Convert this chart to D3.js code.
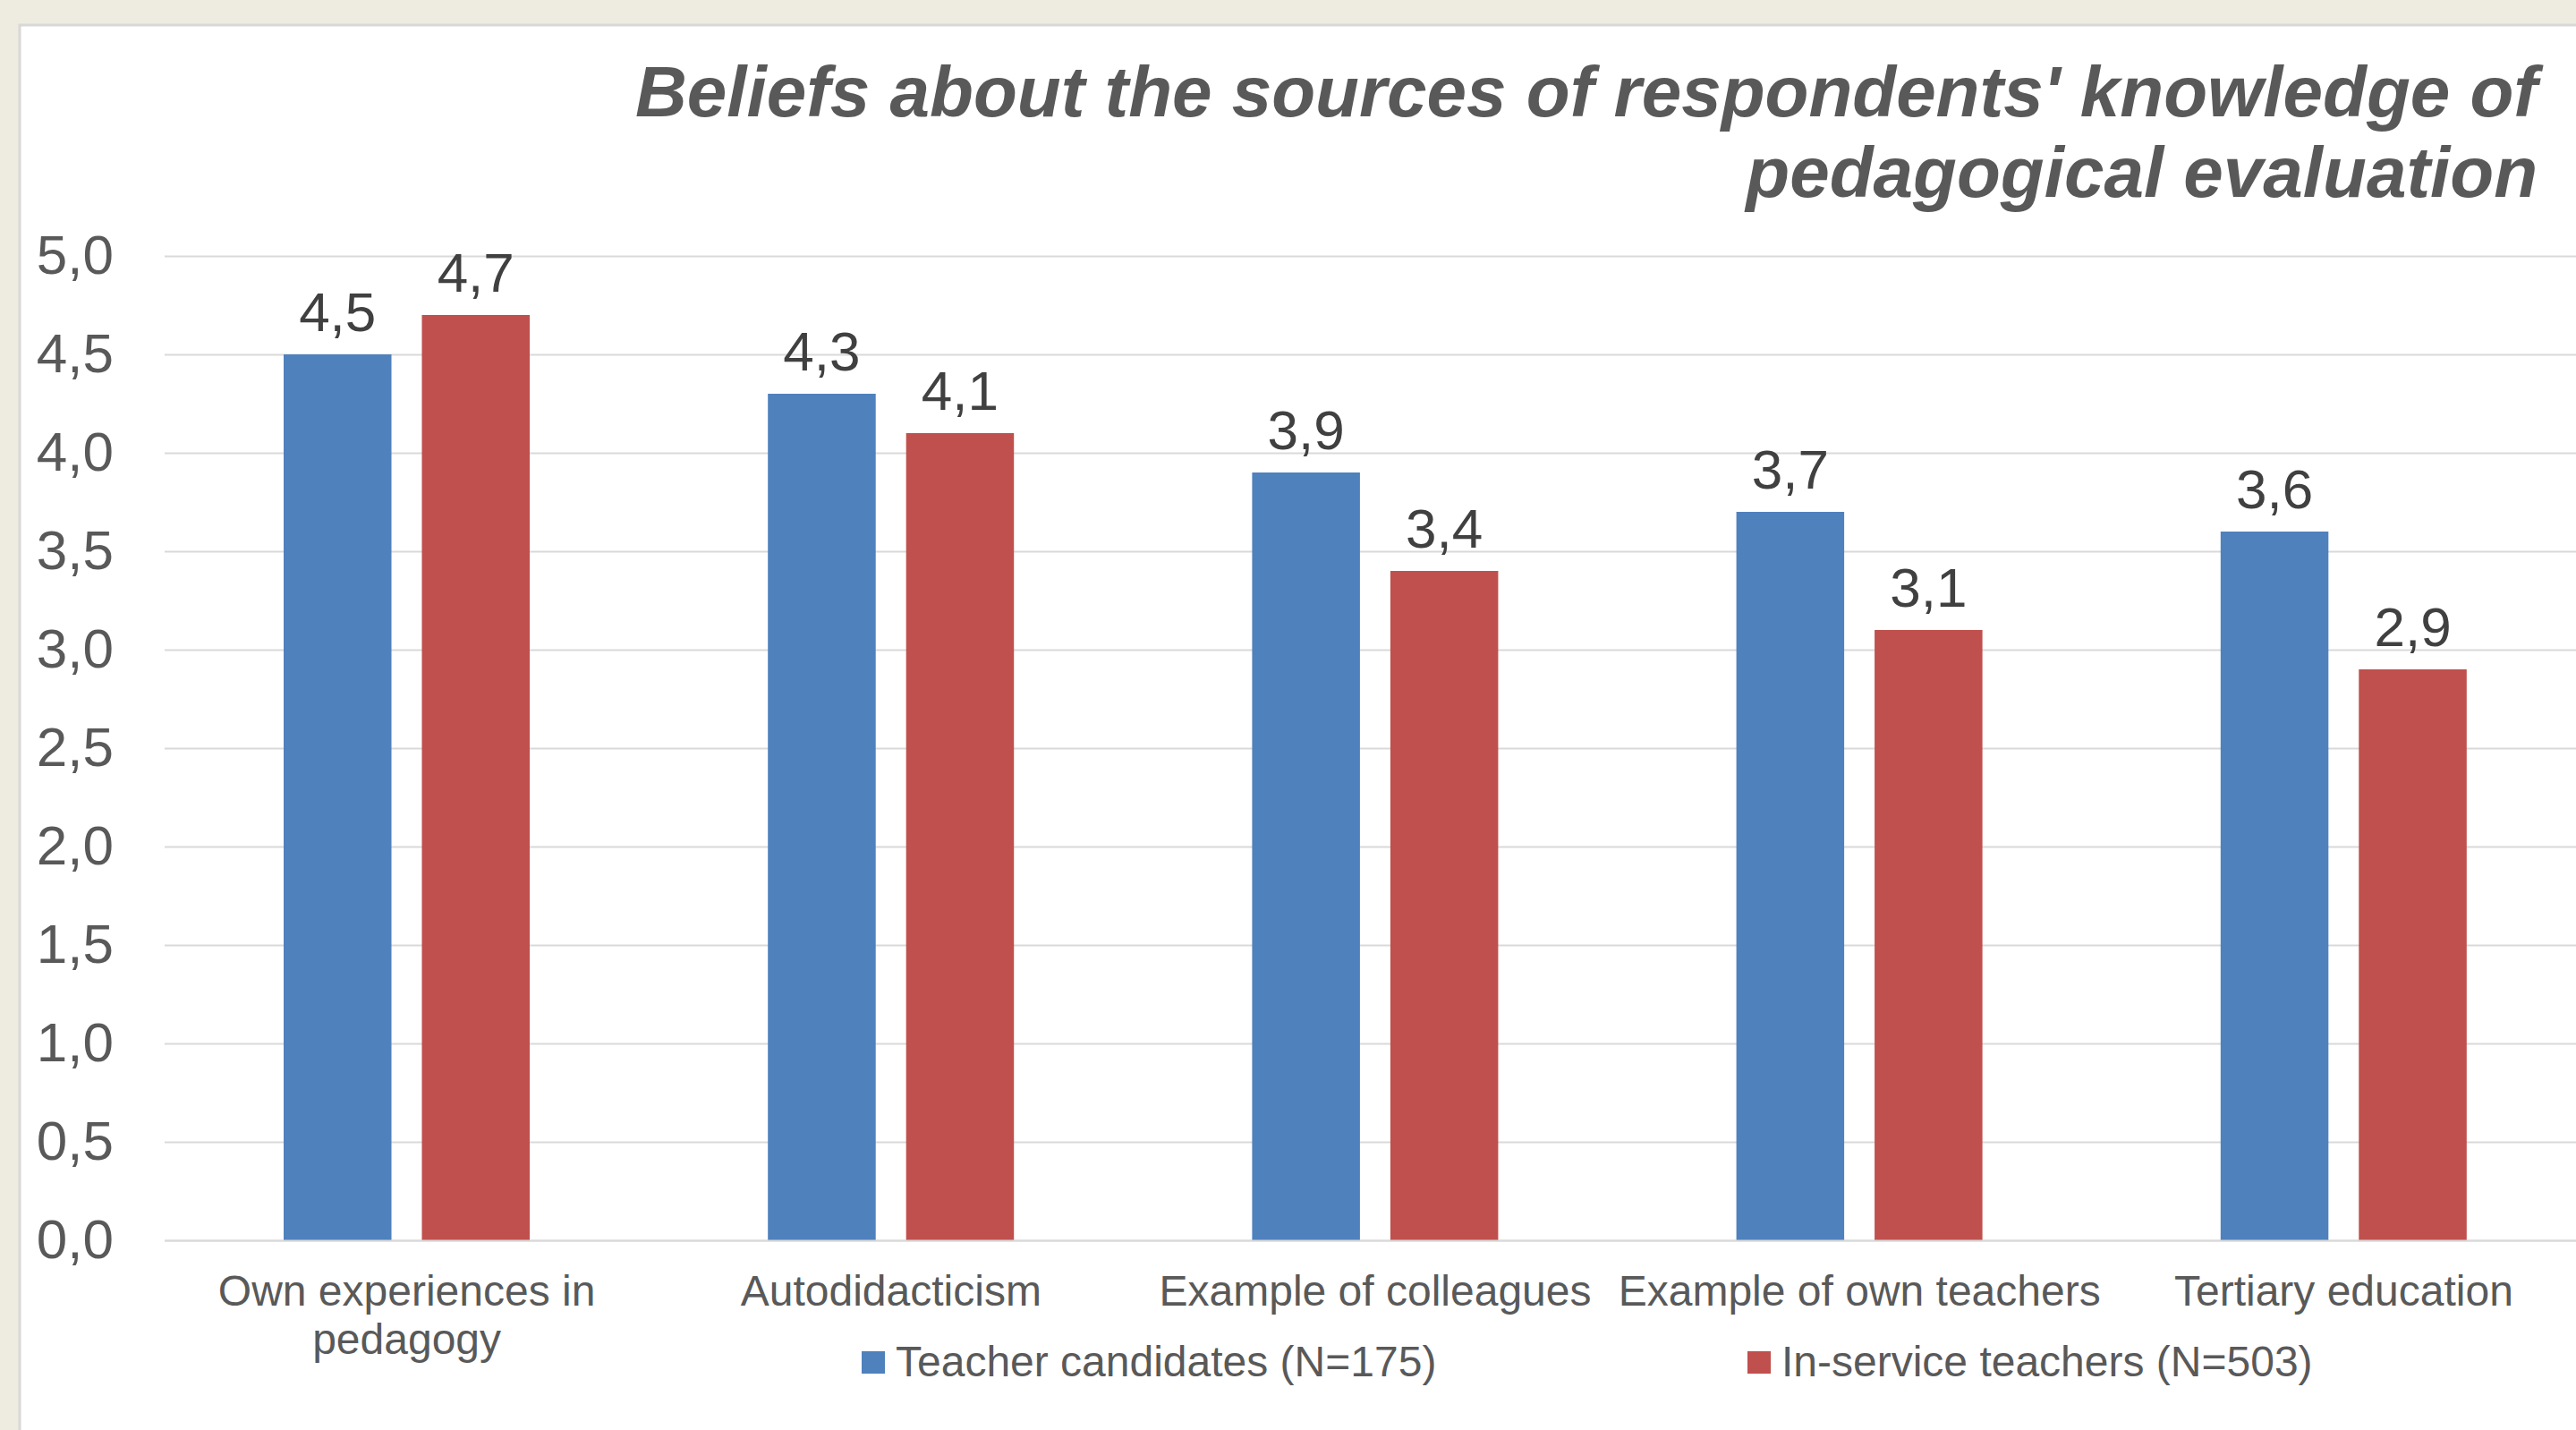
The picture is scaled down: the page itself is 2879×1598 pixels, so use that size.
<!DOCTYPE html>
<html>
<head>
<meta charset="utf-8">
<script src="https://cdn.jsdelivr.net/npm/d3@7"></script>
<style>
  html, body { margin: 0; padding: 0; background: #EEEBE0; }
  svg { display: block; }
</style>
</head>
<body>
<svg id="chart" width="2879" height="1598"></svg>
<script>
const titleLines = ["Beliefs about the sources of respondents' knowledge of", "pedagogical evaluation"];
const categories = ["Own experiences in pedagogy", "Autodidacticism", "Example of colleagues", "Example of own teachers", "Tertiary education"];
const seriesNames = ["Teacher candidates (N=175)", "In-service teachers (N=503)"];
const teacherCandidates = [4.5, 4.3, 3.9, 3.7, 3.6];
const inServiceTeachers = [4.7, 4.1, 3.4, 3.1, 2.9];
const yTicks = [0, 0.5, 1, 1.5, 2, 2.5, 3, 3.5, 4, 4.5, 5];
const colors = ["#4F81BD", "#C0504D"];

const seriesValues = [teacherCandidates, inServiceTeachers];
const fmt = v => d3.format(".1f")(v).replace(".", ",");

const svg = d3.select("#chart");
const W = 2879, H = 1598;

// background panel
svg.append("rect").attr("x", 0).attr("y", 0).attr("width", W).attr("height", H).attr("fill", "#EEEBE0");
svg.append("rect").attr("x", 22).attr("y", 28).attr("width", W).attr("height", H)
  .attr("fill", "#FFFFFF").attr("stroke", "#D8D8D8").attr("stroke-width", 3);

// title
const title = svg.append("text")
  .attr("text-anchor", "end")
  .attr("font-family", "'Liberation Sans', Arial, sans-serif")
  .attr("font-weight", "bold").attr("font-style", "italic")
  .attr("font-size", 80).attr("fill", "#595959");
titleLines.forEach((t, i) => {
  title.append("tspan").attr("x", 2836).attr("y", 130 + i * 90).text(t);
});

// scales
const x0 = d3.scaleBand().domain(categories).range([184, 2890]).paddingInner(0).paddingOuter(0);
const x1 = d3.scaleBand().domain(seriesNames).range([133, 408]).paddingInner(0.22).paddingOuter(0);
const y = d3.scaleLinear().domain([0, 5]).range([1386, 286]);

// y axis with gridlines
const yAxis = svg.append("g").attr("transform", "translate(184,0)")
  .call(d3.axisLeft(y).tickValues(yTicks).tickFormat(fmt).tickSizeInner(-(2890 - 184)).tickSizeOuter(0).tickPadding(57));
yAxis.select(".domain").remove();
yAxis.selectAll(".tick line").attr("stroke", "#D9D9D9").attr("stroke-width", 2);
yAxis.selectAll(".tick text")
  .attr("font-family", "'Liberation Sans', Arial, sans-serif")
  .attr("font-size", 62).attr("fill", "#595959");

// bars
const groups = svg.append("g").selectAll("g")
  .data(categories).join("g")
  .attr("transform", d => `translate(${x0(d)},0)`);

groups.selectAll("rect")
  .data((d, i) => seriesNames.map((s, j) => ({ s, j, v: seriesValues[j][i] })))
  .join("rect")
  .attr("x", d => x1(d.s))
  .attr("width", x1.bandwidth())
  .attr("y", d => y(d.v))
  .attr("height", d => y(0) - y(d.v))
  .attr("fill", d => colors[d.j]);

groups.selectAll("text.val")
  .data((d, i) => seriesNames.map((s, j) => ({ s, j, v: seriesValues[j][i] })))
  .join("text")
  .attr("class", "val")
  .attr("x", d => x1(d.s) + x1.bandwidth() / 2)
  .attr("y", d => y(d.v) - 26)
  .attr("text-anchor", "middle")
  .attr("font-family", "'Liberation Sans', Arial, sans-serif")
  .attr("font-size", 62).attr("fill", "#404040")
  .text(d => fmt(d.v));

// x axis labels (wrapped)
const xAxis = svg.append("g").attr("transform", `translate(0,${y(0)})`)
  .call(d3.axisBottom(x0).tickSize(0).tickPadding(0));
xAxis.select(".domain").attr("stroke", "#D9D9D9").attr("stroke-width", 2);
xAxis.selectAll(".tick text")
  .attr("font-family", "'Liberation Sans', Arial, sans-serif")
  .attr("font-size", 48).attr("fill", "#595959")
  .attr("dy", null).attr("y", 0)
  .each(function(d) {
    const el = d3.select(this);
    const words = d.split(" ");
    el.text(null);
    const maxW = x0.bandwidth() + 10;
    let lines = [], line = [];
    let tsp = el.append("tspan");
    words.forEach(w => {
      line.push(w);
      tsp.text(line.join(" "));
      if (tsp.node().getComputedTextLength() > maxW && line.length > 1) {
        line.pop();
        lines.push(line.join(" "));
        line = [w];
      }
    });
    lines.push(line.join(" "));
    el.text(null);
    lines.forEach((l, i) => {
      el.append("tspan").attr("x", 0).attr("y", 73 + i * 54).text(l);
    });
  });

// legend
const legend = svg.append("g");
const legendX = [963, 1953];
seriesNames.forEach((s, j) => {
  legend.append("rect").attr("x", legendX[j]).attr("y", 1510).attr("width", 26).attr("height", 25).attr("fill", colors[j]);
  legend.append("text").attr("x", legendX[j] + 38).attr("y", 1538)
    .attr("font-family", "'Liberation Sans', Arial, sans-serif")
    .attr("font-size", 48).attr("fill", "#595959").text(s);
});
</script>
</body>
</html>
